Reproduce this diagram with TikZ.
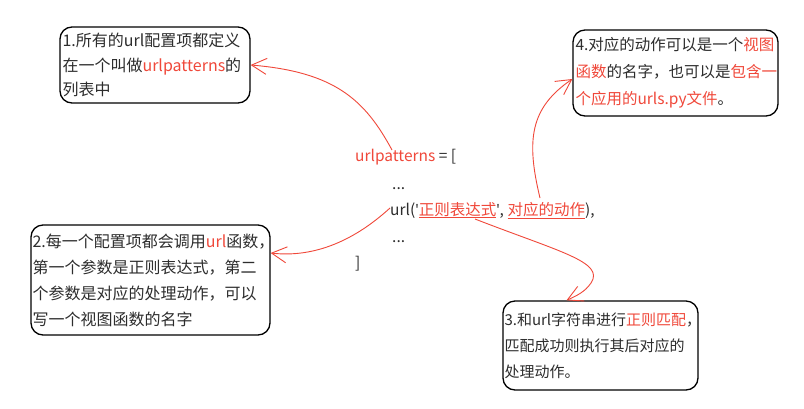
\documentclass[tikz,border=0pt]{standalone}
\usepackage{fontspec}
\setmainfont{Noto Sans CJK SC}
\newfontfamily\latinfont{Noto Sans}
\usetikzlibrary{arrows.meta}
\definecolor{hl}{RGB}{240,72,58}
\definecolor{ink}{RGB}{45,45,45}
\newcommand{\hlt}[1]{\textcolor{hl}{#1}}
\newcommand{\sq}{{\latinfont\symbol{39}}}
\begin{document}
\begin{tikzpicture}[x=1pt,y=-1pt,
 box/.style={draw=black, line width=1.3pt, rounded corners=12pt, inner sep=0pt},
 txt/.style={anchor=west, align=left, inner sep=0pt, text=ink},
 code/.style={anchor=base west, inner sep=0pt, text=ink, font=\fontsize{15.5}{18}\selectfont},
 link/.style={draw=hl, line width=0.9pt, -{Straight Barb[length=15pt,width=16pt]}}]
\fill[white] (0,0) rectangle (804,408);
\useasboundingbox (0,0) rectangle (804,408);

% boxes
\node[box, minimum width=190pt, minimum height=76pt] (b1) at (155,65) {};
\node[txt, font=\fontsize{16}{24.5}\selectfont] (t1) at ([xshift=3pt]b1.west)
  {1.所有的url配置项都定义\\在一个叫做\hlt{urlpatterns}的\\列表中};

\node[box, minimum width=205pt, minimum height=86pt] (b4) at (675.5,73) {};
\node[txt, font=\fontsize{15.5}{27}\selectfont] (t4) at ([xshift=3pt]b4.west)
  {4.对应的动作可以是一个\hlt{视图}\\\hlt{函数}的名字，也可以是\hlt{包含一}\\\hlt{个应用的urls.py文件}。};

\node[box, minimum width=239pt, minimum height=110pt] (b2) at (150.5,280) {};
\node[txt, font=\fontsize{16}{26}\selectfont] (t2) at ([xshift=2pt]b2.west)
  {2.每一个配置项都会调用\hlt{url}函数，\\第一个参数是正则表达式，第二\\个参数是对应的处理动作，可以\\写一个视图函数的名字};

\node[box, minimum width=195pt, minimum height=89pt] (b3) at (600.5,345.5) {};
\node[txt, font=\fontsize{15}{26}\selectfont] (t3) at ([xshift=2pt]b3.west)
  {3.和url字符串进行\hlt{正则匹配}，\\匹配成功则执行其后对应的\\处理动作。};

% code
\node[code] (c1) at (355,161) {\hlt{urlpatterns} = [};
\node[code] (c2) at (392,189) {...};
\node[code] (c3) at (390,215) {url(\sq\hlt{\underline{正则表达式}}\sq, \hlt{\underline{对应的动作}}),};
\node[code] (c4) at (392,242) {...};
\node[code] (c5) at (355,268) {]};

% arrow starts
\coordinate (s1) at (392,150);
\coordinate (s2) at (390,208);
\coordinate (s3) at (475,219);
\coordinate (s4) at (540,198);

% connectors
\draw[link] (s1) .. controls (365,100) and (335,72) .. (b1.east);
\draw[link] (s2) .. controls (355,240) and (315,258) .. ([yshift=27pt]b2.east);
\draw[link] (s3) .. controls (560,252) and (605,262) .. (591,283)
  .. controls (585,292) and (576,296) .. ([xshift=-34pt]b3.north);
\draw[link] (s4) .. controls (526,140) and (530,108) .. ([yshift=-6pt]b4.west);
\end{tikzpicture}
\end{document}
